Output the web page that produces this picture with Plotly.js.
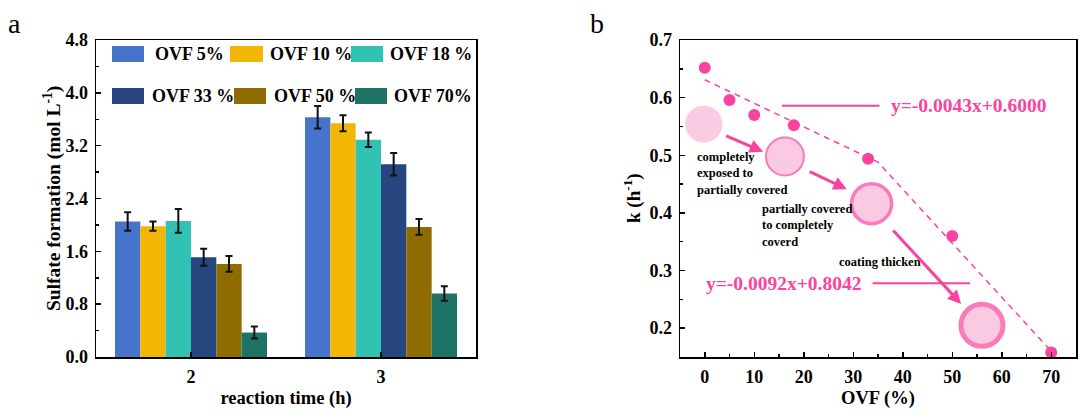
<!DOCTYPE html>
<html>
<head>
<meta charset="utf-8">
<script src="https://cdn.plot.ly/plotly-3.0.1.min.js"></script>
<style>
  body { margin: 0; background: #fff; }
  #chart { width: 1088px; height: 418px; }
</style>
</head>
<body>
<div id="chart"></div>
<script>
// panel a: sulfate formation per reaction time
const times = ['2', '3'];
const ovfNames = ['OVF 5%', 'OVF 10 %', 'OVF 18 %', 'OVF 33 %', 'OVF 50 %', 'OVF 70%'];
const barColors = ['#4674CB', '#F2B705', '#31C2B3', '#27457F', '#8E6C00', '#1E7367'];
const sulfate5 = [2.05, 3.63];
const sulfate10 = [1.98, 3.54];
const sulfate18 = [2.06, 3.29];
const sulfate33 = [1.51, 2.92];
const sulfate50 = [1.41, 1.97];
const sulfate70 = [0.37, 0.96];
const err5 = [0.14, 0.17];
const err10 = [0.07, 0.12];
const err18 = [0.18, 0.11];
const err33 = [0.13, 0.17];
const err50 = [0.12, 0.12];
const err70 = [0.09, 0.11];
const sulfateAll = [sulfate5, sulfate10, sulfate18, sulfate33, sulfate50, sulfate70];
const errAll = [err5, err10, err18, err33, err50, err70];
const sulfateTicks = [0, 0.8, 1.6, 2.4, 3.2, 4.0, 4.8];

// panel b: rate constant vs OVF
const ovfPct = [0, 5, 10, 18, 33, 50, 70];
const kRate = [0.652, 0.596, 0.570, 0.552, 0.494, 0.360, 0.158];
const fitX = [0, 35, 70];
const fitY = [0.631, 0.488, 0.160];
const stageX = [-0.2, 16.2, 33.7, 56.0];
const stageY = [0.554, 0.498, 0.416, 0.205];
const ovfTicks = [0, 10, 20, 30, 40, 50, 60, 70];
const kTicks = [0.2, 0.3, 0.4, 0.5, 0.6, 0.7];

const pink = '#F9439E';
const lightPink = '#F9B5D7';
const serif = 'Liberation Serif, Times New Roman, serif';
const W = 1088, H = 418;
const px = (x) => x / W;
const py = (y) => 1 - y / H;
const b = (s) => '<b>' + s + '</b>';

let traces = [];
sulfateAll.forEach((vals, i) => {
    traces.push({
        type: 'bar',
        x: times,
        y: vals,
        name: ovfNames[i],
        marker: {color: barColors[i], line: {width: 0}},
        error_y: {type: 'data', array: errAll[i], visible: true, color: '#111', thickness: 2, width: 3.5},
        xaxis: 'x', yaxis: 'y',
        showlegend: false
    });
});

traces.push({
    type: 'scatter', mode: 'lines', x: fitX, y: fitY,
    line: {color: pink, width: 1.5, dash: '6px,5px'},
    xaxis: 'x2', yaxis: 'y2', showlegend: false
});
traces.push({
    type: 'scatter', mode: 'markers', x: ovfPct, y: kRate,
    marker: {color: pink, size: 12},
    cliponaxis: false,
    xaxis: 'x2', yaxis: 'y2', showlegend: false
});
traces.push({
    type: 'scatter', mode: 'markers', x: stageX, y: stageY,
    marker: {color: lightPink, size: [37, 38, 40, 42], line: {color: pink, width: [0, 2, 3.5, 5]}},
    cliponaxis: false,
    xaxis: 'x2', yaxis: 'y2', showlegend: false
});

const tickFont = {family: serif, size: 18, color: '#000'};
const titleFont = {family: serif, size: 18.5, color: '#000'};
const minorTicks = {ticks: 'inside', ticklen: 3, tickwidth: 1.5, tickcolor: '#000'};
const axisBase = {
    showline: true, linecolor: '#000', linewidth: 1.5, mirror: true,
    ticks: 'inside', ticklen: 5, tickwidth: 1.5, tickcolor: '#000',
    showgrid: false, zeroline: false, tickfont: tickFont, ticklabelstandoff: 3
};

// hand-made legend: wide swatches in two rows
const legendPos = [
    [112, 144, 153, 54], [230, 263, 268, 54], [351, 383, 388, 54],
    [112, 144, 150, 96], [234, 266, 272, 96], [355, 387, 392, 96]
];
let shapes = [];
let annotations = [];
legendPos.forEach((p, i) => {
    shapes.push({type: 'rect', xref: 'paper', yref: 'paper',
        x0: px(p[0]), x1: px(p[1]), y0: py(p[3] - 8), y1: py(p[3] + 8),
        fillcolor: barColors[i], line: {width: 0}});
    annotations.push({xref: 'paper', yref: 'paper', x: px(p[2]), y: py(p[3]),
        xanchor: 'left', yanchor: 'middle', showarrow: false, text: b(ovfNames[i]),
        font: {family: serif, size: 18, color: '#000'}});
});

// panel letters
annotations.push({xref: 'paper', yref: 'paper', x: px(14), y: py(24), xanchor: 'center', yanchor: 'middle',
    showarrow: false, text: 'a', font: {family: serif, size: 28, color: '#000'}});
annotations.push({xref: 'paper', yref: 'paper', x: px(597), y: py(23), xanchor: 'center', yanchor: 'middle',
    showarrow: false, text: 'b', font: {family: serif, size: 28, color: '#000'}});

// y axis titles, placed like the reference
annotations.push({xref: 'paper', yref: 'paper', x: px(52), y: py(199), xanchor: 'center', yanchor: 'middle',
    textangle: -90, showarrow: false, text: b('Sulfate formation (mol L<sup>-1</sup>)'),
    font: {family: serif, size: 19.5, color: '#000'}});
annotations.push({xref: 'paper', yref: 'paper', x: px(633), y: py(198), xanchor: 'center', yanchor: 'middle',
    textangle: -90, showarrow: false, text: b('k (h<sup>-1</sup>)'),
    font: {family: serif, size: 19, color: '#000'}});

// panel b labels
const noteFont = {family: serif, size: 12.5, color: '#000'};
const eqFont = {family: serif, size: 19.5, color: pink};
annotations.push({xref: 'x2', yref: 'y2', x: -1.9, y: 0.468, xanchor: 'left', yanchor: 'middle', align: 'left',
    showarrow: false, text: b('completely') + '<br>' + b('exposed to') + '<br>' + b('partially covered'), font: noteFont});
annotations.push({xref: 'x2', yref: 'y2', x: 11.1, y: 0.379, xanchor: 'left', yanchor: 'middle', align: 'left',
    showarrow: false, text: b('partially covered') + '<br>' + b('to completely') + '<br>' + b('coverd'), font: noteFont});
annotations.push({xref: 'x2', yref: 'y2', x: 26.7, y: 0.315, xanchor: 'left', yanchor: 'middle', align: 'left',
    showarrow: false, text: b('coating thicken'), font: noteFont});
annotations.push({xref: 'x2', yref: 'y2', x: 37.2, y: 0.586, xanchor: 'left', yanchor: 'middle',
    showarrow: false, text: b('y=-0.0043x+0.6000'), font: eqFont});
annotations.push({xref: 'x2', yref: 'y2', x: -0.1, y: 0.278, xanchor: 'left', yanchor: 'middle',
    showarrow: false, text: b('y=-0.0092x+0.8042'), font: eqFont});

shapes.push({type: 'line', xref: 'x2', yref: 'y2', x0: 15.6, x1: 35.3, y0: 0.586, y1: 0.586,
    line: {color: pink, width: 2}});
shapes.push({type: 'line', xref: 'x2', yref: 'y2', x0: 33.9, x1: 53.6, y0: 0.278, y1: 0.278,
    line: {color: pink, width: 2}});

const arrows = [
    [4.05, 0.535, 11.8, 0.506],
    [20.9, 0.473, 28.7, 0.441],
    [37.8, 0.372, 51.8, 0.242]
];
arrows.forEach((a) => {
    annotations.push({xref: 'x2', yref: 'y2', axref: 'x2', ayref: 'y2',
        ax: a[0], ay: a[1], x: a[2], y: a[3], text: '', showarrow: true,
        arrowhead: 2, arrowsize: 0.9, arrowwidth: 3, arrowcolor: pink});
});

const layout = {
    width: W, height: H,
    margin: {l: 0, r: 0, t: 0, b: 0},
    paper_bgcolor: '#fff', plot_bgcolor: '#fff',
    barmode: 'group', bargap: 0.2, bargroupgap: 0,
    xaxis: Object.assign({}, axisBase, {
        domain: [px(96), px(476)], type: 'category', range: [-0.5, 1.5],
        tickvals: times, ticktext: times.map(b),
        title: {text: b('reaction time (h)'), font: titleFont, standoff: 5}
    }),
    yaxis: Object.assign({}, axisBase, {
        domain: [py(357), py(40)], range: [0, 4.8],
        tickvals: sulfateTicks, ticktext: sulfateTicks.map((v) => b(v.toFixed(1))),
        minor: Object.assign({dtick: 0.4}, minorTicks)
    }),
    xaxis2: Object.assign({}, axisBase, {
        domain: [px(680), px(1076)], anchor: 'y2', range: [-5, 75],
        tickvals: ovfTicks, ticktext: ovfTicks.map((v) => b(v)),
        minor: Object.assign({dtick: 5, tick0: 0}, minorTicks),
        title: {text: b('OVF (%)'), font: titleFont, standoff: 5}
    }),
    yaxis2: Object.assign({}, axisBase, {
        domain: [py(357), py(40)], anchor: 'x2', range: [0.15, 0.7],
        tickvals: kTicks, ticktext: kTicks.map((v) => b(v.toFixed(1))),
        minor: Object.assign({dtick: 0.05, tick0: 0.15}, minorTicks)
    }),
    shapes: shapes,
    annotations: annotations
};

Plotly.newPlot('chart', traces, layout, {displayModeBar: false, staticPlot: true});
</script>
</body>
</html>
